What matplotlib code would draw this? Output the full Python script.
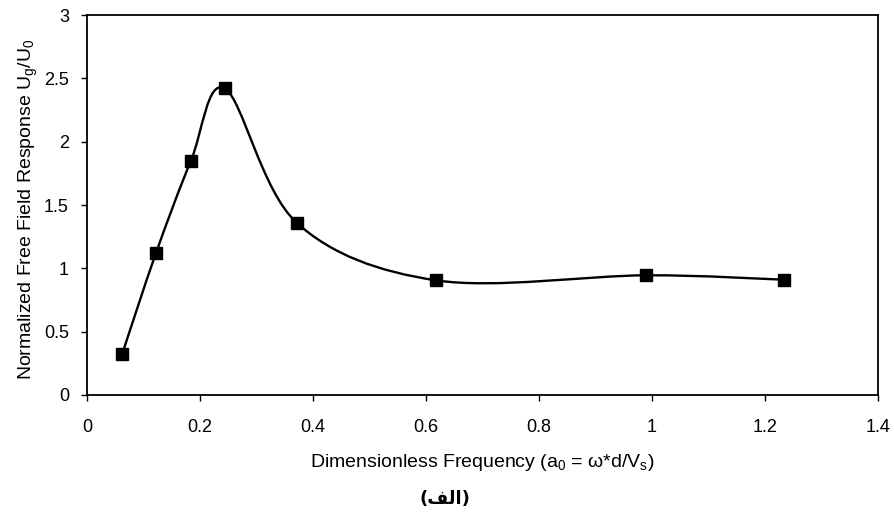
import numpy as np
import matplotlib
matplotlib.use('Agg')
import matplotlib.pyplot as plt
from matplotlib.path import Path
from matplotlib.patches import PathPatch

plt.rcParams['font.family'] = ['Liberation Sans', 'DejaVu Sans']
plt.rcParams['mathtext.fontset'] = 'custom'
plt.rcParams['mathtext.rm'] = 'Liberation Sans'
plt.rcParams['mathtext.it'] = 'Liberation Sans'
plt.rcParams['xtick.direction'] = 'out'
plt.rcParams['ytick.direction'] = 'out'

# data
freq = [0.062, 0.122, 0.184, 0.244, 0.371, 0.618, 0.990, 1.234]
resp = [0.32, 1.12, 1.85, 2.42, 1.36, 0.905, 0.945, 0.91]
xticks = [0, 0.2, 0.4, 0.6, 0.8, 1, 1.2, 1.4]
xtick_labels = ['0', '0.2', '0.4', '0.6', '0.8', '1', '1.2', '1.4']
yticks = [0, 0.5, 1, 1.5, 2, 2.5, 3]
ytick_labels = ['0', '0.5', '1', '1.5', '2', '2.5', '3']


def smooth_path(x, y):
    # excel-like smoothed line: bezier segments through every point
    p = np.column_stack([x, y])
    verts = [p[0]]
    codes = [Path.MOVETO]
    n = len(p)
    for i in range(n - 1):
        p0 = p[i - 1] if i > 0 else p[i]
        p3 = p[i + 2] if i + 2 < n else p[i + 1]
        c1 = p[i] + (p[i + 1] - p0) / 6.0
        c2 = p[i + 1] - (p3 - p[i]) / 6.0
        verts += [c1, c2, p[i + 1]]
        codes += [Path.CURVE4] * 3
    return Path(verts, codes)


fig = plt.figure(figsize=(8.95, 5.19), dpi=100)
ax = fig.add_axes([0.0972, 0.239, 0.884, 0.732])

ax.add_patch(PathPatch(smooth_path(freq, resp), facecolor='none',
                       edgecolor='black', lw=1.7))
ax.plot(freq, resp, ls='none', marker='s', ms=8.5, color='black')

ax.set_xlim(0, 1.4)
ax.set_ylim(0, 3)
ax.set_xticks(xticks)
ax.set_xticklabels(xtick_labels)
ax.set_yticks(yticks)
ax.set_yticklabels(ytick_labels)
ax.tick_params(labelsize=13, length=4, width=1)
ax.tick_params(axis='x', pad=13)
ax.tick_params(axis='y', pad=9)
for s in ax.spines.values():
    s.set_linewidth(1.3)

ax.set_xlabel(r'Dimensionless Frequency (a$_0$ = $\omega$*d/V$_s$)', fontsize=14)
ax.set_ylabel(r'Normalized Free Field Response U$_g$/U$_0$', fontsize=14)
ax.xaxis.set_label_coords(0.50, -0.15)
ax.yaxis.set_label_coords(-0.059, 0.49)

# Arabic caption, written in visual order with presentation forms
fig.text(0.497, 0.038, '(\uFED2\uFEDF\uFE8D)', ha='center', va='center',
         fontsize=13, fontweight='bold', family=['DejaVu Sans'])

fig.savefig('out.png', dpi=100)
